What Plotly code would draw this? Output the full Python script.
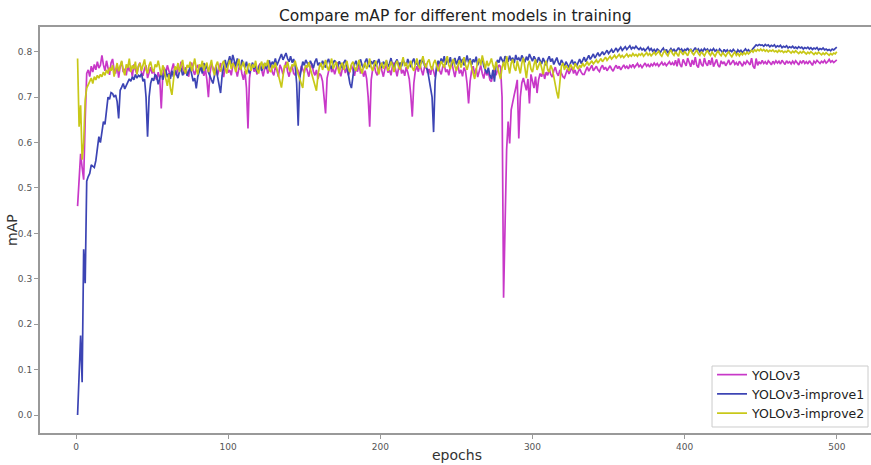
import plotly.graph_objects as go

title_text = "Compare mAP for different models in training"
x_label = "epochs"
y_label = "mAP"
series_names = ["YOLOv3", "YOLOv3-improve1", "YOLOv3-improve2"]
x_ticks = [0, 100, 200, 300, 400, 500]
y_ticks = [0.0, 0.1, 0.2, 0.3, 0.4, 0.5, 0.6, 0.7, 0.8]

yolov3 = [
    0.460, 0.520, 0.575, 0.545, 0.518, 0.650, 0.752, 0.760, 0.745, 0.768,
    0.755, 0.772, 0.760, 0.778, 0.764, 0.770, 0.792, 0.771, 0.758, 0.780,
    0.762, 0.749, 0.775, 0.784, 0.760, 0.752, 0.770, 0.743, 0.767, 0.778,
    0.755, 0.762, 0.748, 0.771, 0.757, 0.766, 0.745, 0.772, 0.760, 0.751,
    0.768, 0.776, 0.754, 0.747, 0.763, 0.770, 0.742, 0.758, 0.766, 0.752,
    0.760, 0.745, 0.738, 0.755, 0.741, 0.675, 0.748, 0.765, 0.752, 0.770,
    0.758, 0.746, 0.762, 0.774, 0.755, 0.748, 0.767, 0.759, 0.778, 0.761,
    0.750, 0.766, 0.757, 0.745, 0.769, 0.776, 0.758, 0.749, 0.764, 0.771,
    0.755, 0.768, 0.760, 0.747, 0.762, 0.738, 0.700, 0.752, 0.773, 0.764,
    0.756, 0.770, 0.748, 0.761, 0.775, 0.757, 0.744, 0.766, 0.772, 0.754,
    0.760, 0.748, 0.769, 0.777, 0.757, 0.745, 0.763, 0.771, 0.752, 0.738,
    0.758, 0.720, 0.631, 0.742, 0.765, 0.773, 0.756, 0.762, 0.750, 0.768,
    0.774, 0.757, 0.746, 0.764, 0.770, 0.752, 0.761, 0.776, 0.755, 0.748,
    0.767, 0.759, 0.745, 0.771, 0.763, 0.750, 0.766, 0.778, 0.757, 0.745,
    0.762, 0.770, 0.752, 0.748, 0.765, 0.758, 0.744, 0.769, 0.761, 0.753,
    0.770, 0.757, 0.745, 0.763, 0.774, 0.756, 0.748, 0.760, 0.740, 0.752,
    0.748, 0.735, 0.700, 0.664, 0.742, 0.760, 0.772, 0.755, 0.763, 0.750,
    0.768, 0.777, 0.758, 0.746, 0.762, 0.770, 0.753, 0.765, 0.748, 0.757,
    0.771, 0.760, 0.747, 0.765, 0.756, 0.774, 0.752, 0.761, 0.745, 0.758,
    0.740, 0.700, 0.635, 0.738, 0.762, 0.770, 0.755, 0.748, 0.766, 0.775,
    0.758, 0.745, 0.763, 0.771, 0.754, 0.760, 0.748, 0.769, 0.776, 0.757,
    0.746, 0.764, 0.771, 0.752, 0.760, 0.747, 0.766, 0.755, 0.740, 0.705,
    0.657, 0.730, 0.758, 0.768, 0.756, 0.772, 0.760, 0.748, 0.765, 0.774,
    0.753, 0.762, 0.749, 0.768, 0.757, 0.745, 0.763, 0.777, 0.758, 0.750,
    0.766, 0.772, 0.755, 0.761, 0.748, 0.767, 0.775, 0.756, 0.744, 0.762,
    0.770, 0.752, 0.760, 0.746, 0.765, 0.757, 0.730, 0.686, 0.735, 0.758,
    0.768, 0.750, 0.763, 0.744, 0.756, 0.770, 0.752, 0.741, 0.760, 0.748,
    0.755, 0.738, 0.734, 0.752, 0.765, 0.748, 0.760, 0.771, 0.767, 0.700,
    0.258, 0.420, 0.584, 0.646, 0.598, 0.672, 0.694, 0.705, 0.720, 0.738,
    0.609, 0.700, 0.731, 0.742, 0.728, 0.715, 0.740, 0.686, 0.750, 0.732,
    0.720, 0.745, 0.709, 0.738, 0.752, 0.745, 0.758, 0.740, 0.755, 0.748,
    0.762, 0.750, 0.744, 0.758, 0.766, 0.753, 0.747, 0.760, 0.751, 0.745,
    0.742, 0.755, 0.762, 0.751, 0.758, 0.766, 0.752, 0.760, 0.748, 0.757,
    0.763, 0.755, 0.750, 0.750, 0.760, 0.767, 0.757, 0.763, 0.770, 0.758,
    0.762, 0.768, 0.760, 0.756, 0.765, 0.770, 0.761, 0.766, 0.758, 0.764,
    0.769, 0.762, 0.757, 0.765, 0.770, 0.763, 0.768, 0.760, 0.766, 0.771,
    0.764, 0.768, 0.762, 0.770, 0.766, 0.772, 0.765, 0.769, 0.774, 0.767,
    0.771, 0.765, 0.770, 0.775, 0.768, 0.772, 0.766, 0.773, 0.769, 0.775,
    0.770, 0.774, 0.768, 0.772, 0.777, 0.770, 0.775, 0.769, 0.773, 0.778,
    0.771, 0.776, 0.770, 0.781, 0.768, 0.785, 0.772, 0.766, 0.783, 0.775,
    0.769, 0.786, 0.774, 0.767, 0.782, 0.771, 0.788, 0.770, 0.765, 0.784,
    0.772, 0.768, 0.786, 0.774, 0.769, 0.781, 0.771, 0.787, 0.767, 0.775,
    0.783, 0.770, 0.766, 0.780, 0.773, 0.778, 0.769, 0.775, 0.782, 0.771,
    0.777, 0.781, 0.772, 0.776, 0.770, 0.779, 0.774, 0.768, 0.777, 0.773,
    0.780, 0.775, 0.771, 0.786, 0.768, 0.763, 0.785, 0.770, 0.778, 0.773,
    0.781, 0.774, 0.778, 0.772, 0.780, 0.776, 0.771, 0.779, 0.774, 0.780,
    0.775, 0.779, 0.773, 0.781, 0.776, 0.772, 0.780, 0.775, 0.778, 0.773,
    0.779, 0.774, 0.780, 0.776, 0.771, 0.779, 0.775, 0.781, 0.774, 0.778,
    0.773, 0.780, 0.776, 0.770, 0.779, 0.775, 0.781, 0.777, 0.774, 0.779,
    0.776, 0.781, 0.775, 0.778, 0.783, 0.777, 0.780, 0.776, 0.779, 0.782,
]

yolov3_improve1 = [
    0.000, 0.090, 0.175, 0.072, 0.365, 0.290, 0.515, 0.525, 0.532, 0.551,
    0.548, 0.545, 0.560, 0.584, 0.613, 0.600, 0.628, 0.646, 0.640, 0.679,
    0.700, 0.695, 0.710, 0.708, 0.700, 0.705, 0.690, 0.653, 0.715, 0.722,
    0.730, 0.718, 0.725, 0.732, 0.740, 0.735, 0.745, 0.738, 0.750, 0.742,
    0.748, 0.745, 0.752, 0.735, 0.740, 0.700, 0.613, 0.700, 0.730, 0.742,
    0.736, 0.750, 0.745, 0.728, 0.742, 0.755, 0.738, 0.747, 0.760, 0.744,
    0.752, 0.740, 0.758, 0.745, 0.763, 0.750, 0.742, 0.757, 0.765, 0.748,
    0.755, 0.762, 0.747, 0.758, 0.766, 0.750, 0.735, 0.742, 0.719, 0.745,
    0.760, 0.768, 0.752, 0.775, 0.762, 0.770, 0.755, 0.748, 0.738, 0.730,
    0.752, 0.766, 0.745, 0.725, 0.709, 0.748, 0.770, 0.782, 0.765, 0.778,
    0.790, 0.772, 0.793, 0.780, 0.768, 0.785, 0.775, 0.760, 0.782, 0.771,
    0.765, 0.778, 0.760, 0.752, 0.768, 0.776, 0.762, 0.770, 0.755, 0.764,
    0.772, 0.758, 0.767, 0.775, 0.762, 0.770, 0.781, 0.766, 0.778, 0.772,
    0.785, 0.770, 0.779, 0.788, 0.795, 0.782, 0.790, 0.797, 0.785, 0.778,
    0.790, 0.776, 0.784, 0.770, 0.730, 0.637, 0.742, 0.765, 0.778, 0.770,
    0.782, 0.775, 0.768, 0.780, 0.772, 0.764, 0.778, 0.785, 0.770, 0.776,
    0.768, 0.780, 0.772, 0.765, 0.778, 0.784, 0.770, 0.762, 0.776, 0.781,
    0.773, 0.766, 0.779, 0.771, 0.764, 0.776, 0.782, 0.769, 0.745, 0.730,
    0.720, 0.752, 0.772, 0.780, 0.768, 0.775, 0.783, 0.770, 0.764, 0.778,
    0.785, 0.771, 0.766, 0.779, 0.773, 0.781, 0.768, 0.775, 0.784, 0.770,
    0.765, 0.778, 0.772, 0.780, 0.767, 0.774, 0.786, 0.771, 0.763, 0.777,
    0.783, 0.770, 0.776, 0.768, 0.781, 0.775, 0.769, 0.784, 0.772, 0.766,
    0.778, 0.785, 0.771, 0.776, 0.768, 0.782, 0.774, 0.786, 0.770, 0.765,
    0.760, 0.740, 0.720, 0.700, 0.623, 0.735, 0.768, 0.780, 0.772, 0.785,
    0.776, 0.790, 0.771, 0.783, 0.775, 0.788, 0.770, 0.779, 0.786, 0.772,
    0.781, 0.790, 0.775, 0.784, 0.770, 0.778, 0.792, 0.776, 0.785, 0.771,
    0.783, 0.777, 0.789, 0.770, 0.781, 0.775, 0.786, 0.768, 0.760, 0.752,
    0.765, 0.748, 0.740, 0.760, 0.734, 0.770, 0.782, 0.776, 0.789, 0.781,
    0.775, 0.790, 0.783, 0.778, 0.791, 0.780, 0.787, 0.775, 0.793, 0.782,
    0.786, 0.779, 0.792, 0.784, 0.777, 0.789, 0.781, 0.795, 0.785, 0.779,
    0.790, 0.783, 0.776, 0.788, 0.780, 0.773, 0.786, 0.779, 0.770, 0.783,
    0.790, 0.778, 0.785, 0.772, 0.780, 0.787, 0.776, 0.770, 0.782, 0.775,
    0.768, 0.778, 0.770, 0.765, 0.775, 0.782, 0.772, 0.778, 0.768, 0.776,
    0.784, 0.774, 0.780, 0.788, 0.778, 0.785, 0.792, 0.783, 0.789, 0.795,
    0.786, 0.792, 0.798, 0.790, 0.795, 0.800, 0.793, 0.797, 0.803, 0.796,
    0.800, 0.805, 0.798, 0.803, 0.808, 0.801, 0.806, 0.810, 0.803, 0.807,
    0.811, 0.805, 0.809, 0.813, 0.806, 0.810, 0.807, 0.812, 0.808, 0.805,
    0.809, 0.804, 0.807, 0.802, 0.806, 0.810, 0.803, 0.807, 0.801, 0.805,
    0.800, 0.806, 0.803, 0.798, 0.804, 0.808, 0.800, 0.805, 0.797, 0.803,
    0.807, 0.801, 0.806, 0.799, 0.804, 0.809, 0.802, 0.806, 0.800, 0.805,
    0.803, 0.808, 0.801, 0.806, 0.799, 0.804, 0.809, 0.802, 0.806, 0.800,
    0.805, 0.801, 0.807, 0.803, 0.806, 0.800, 0.805, 0.802, 0.807, 0.801,
    0.804, 0.799, 0.806, 0.802, 0.798, 0.805, 0.800, 0.804, 0.799, 0.803,
    0.800, 0.805, 0.801, 0.797, 0.804, 0.800, 0.803, 0.798, 0.802, 0.806,
    0.801, 0.804, 0.799, 0.803, 0.808, 0.812, 0.815, 0.813, 0.816, 0.814,
    0.815, 0.812, 0.816, 0.813, 0.815, 0.811, 0.814, 0.812, 0.815, 0.810,
    0.813, 0.811, 0.814, 0.809, 0.812, 0.810, 0.813, 0.808, 0.811, 0.809,
    0.812, 0.808, 0.810, 0.807, 0.811, 0.808, 0.810, 0.806, 0.809, 0.807,
    0.810, 0.806, 0.809, 0.805, 0.808, 0.806, 0.809, 0.804, 0.807, 0.805,
    0.808, 0.804, 0.806, 0.803, 0.805, 0.802, 0.806, 0.804, 0.807, 0.810,
]

yolov3_improve2 = [
    0.785, 0.635, 0.682, 0.562, 0.600, 0.694, 0.720, 0.728, 0.735, 0.742,
    0.730, 0.745, 0.738, 0.748, 0.742, 0.750, 0.745, 0.755, 0.748, 0.760,
    0.752, 0.765, 0.758, 0.770, 0.745, 0.762, 0.775, 0.757, 0.768, 0.780,
    0.760, 0.748, 0.772, 0.765, 0.785, 0.755, 0.770, 0.762, 0.778, 0.750,
    0.768, 0.775, 0.758, 0.772, 0.783, 0.760, 0.752, 0.770, 0.778, 0.762,
    0.755, 0.772, 0.766, 0.780, 0.760, 0.748, 0.770, 0.762, 0.740, 0.725,
    0.750, 0.720, 0.705, 0.745, 0.768, 0.760, 0.775, 0.755, 0.770, 0.782,
    0.760, 0.752, 0.771, 0.765, 0.778, 0.757, 0.769, 0.785, 0.762, 0.750,
    0.772, 0.766, 0.780, 0.758, 0.770, 0.776, 0.755, 0.768, 0.782, 0.760,
    0.748, 0.770, 0.778, 0.762, 0.756, 0.773, 0.780, 0.765, 0.752, 0.770,
    0.782, 0.762, 0.775, 0.768, 0.755, 0.772, 0.784, 0.760, 0.770, 0.778,
    0.763, 0.750, 0.768, 0.775, 0.758, 0.772, 0.765, 0.780, 0.760, 0.752,
    0.770, 0.778, 0.762, 0.775, 0.768, 0.782, 0.760, 0.755, 0.771, 0.764,
    0.776, 0.760, 0.745, 0.735, 0.721, 0.752, 0.770, 0.765, 0.778, 0.762,
    0.755, 0.772, 0.768, 0.780, 0.762, 0.750, 0.740, 0.732, 0.720, 0.758,
    0.770, 0.765, 0.777, 0.762, 0.750, 0.740, 0.730, 0.714, 0.748, 0.768,
    0.775, 0.760, 0.770, 0.782, 0.766, 0.758, 0.773, 0.785, 0.762, 0.770,
    0.778, 0.765, 0.752, 0.770, 0.776, 0.760, 0.768, 0.780, 0.763, 0.755,
    0.772, 0.778, 0.765, 0.758, 0.770, 0.782, 0.764, 0.752, 0.768, 0.776,
    0.762, 0.770, 0.785, 0.765, 0.758, 0.773, 0.780, 0.762, 0.750, 0.768,
    0.776, 0.763, 0.770, 0.782, 0.758, 0.765, 0.778, 0.770, 0.755, 0.772,
    0.780, 0.766, 0.760, 0.775, 0.788, 0.768, 0.776, 0.762, 0.771, 0.780,
    0.765, 0.758, 0.772, 0.785, 0.770, 0.763, 0.778, 0.790, 0.772, 0.765,
    0.777, 0.783, 0.768, 0.760, 0.775, 0.782, 0.770, 0.757, 0.768, 0.779,
    0.772, 0.765, 0.780, 0.790, 0.770, 0.762, 0.776, 0.784, 0.768, 0.758,
    0.770, 0.781, 0.765, 0.775, 0.788, 0.770, 0.760, 0.773, 0.782, 0.765,
    0.750, 0.740, 0.760, 0.778, 0.785, 0.770, 0.792, 0.775, 0.762, 0.780,
    0.768, 0.775, 0.785, 0.770, 0.760, 0.778, 0.765, 0.752, 0.740, 0.765,
    0.778, 0.760, 0.790, 0.770, 0.752, 0.775, 0.783, 0.765, 0.758, 0.780,
    0.768, 0.752, 0.775, 0.787, 0.765, 0.742, 0.770, 0.780, 0.762, 0.755,
    0.772, 0.783, 0.760, 0.768, 0.778, 0.765, 0.750, 0.772, 0.780, 0.760,
    0.755, 0.770, 0.762, 0.745, 0.725, 0.710, 0.697, 0.740, 0.768, 0.775,
    0.760, 0.770, 0.765, 0.758, 0.772, 0.766, 0.760, 0.774, 0.768, 0.762,
    0.770, 0.765, 0.775, 0.768, 0.772, 0.778, 0.770, 0.775, 0.780, 0.773,
    0.777, 0.782, 0.775, 0.780, 0.785, 0.778, 0.783, 0.788, 0.781, 0.786,
    0.790, 0.784, 0.788, 0.792, 0.786, 0.790, 0.794, 0.788, 0.792, 0.787,
    0.791, 0.795, 0.789, 0.793, 0.790, 0.796, 0.791, 0.794, 0.790, 0.795,
    0.792, 0.797, 0.790, 0.794, 0.798, 0.792, 0.796, 0.791, 0.795, 0.799,
    0.793, 0.797, 0.801, 0.794, 0.790, 0.798, 0.802, 0.795, 0.791, 0.799,
    0.804, 0.796, 0.792, 0.800, 0.795, 0.790, 0.803, 0.797, 0.793, 0.801,
    0.796, 0.791, 0.800, 0.805, 0.797, 0.793, 0.799, 0.804, 0.796, 0.792,
    0.800, 0.795, 0.791, 0.798, 0.803, 0.796, 0.792, 0.799, 0.794, 0.790,
    0.797, 0.802, 0.795, 0.791, 0.798, 0.794, 0.790, 0.796, 0.800, 0.793,
    0.789, 0.795, 0.799, 0.792, 0.796, 0.791, 0.797, 0.793, 0.798, 0.794,
    0.799, 0.795, 0.800, 0.803, 0.799, 0.804, 0.801, 0.805, 0.802, 0.806,
    0.802, 0.805, 0.801, 0.804, 0.800, 0.803, 0.801, 0.804, 0.800, 0.802,
    0.799, 0.803, 0.800, 0.802, 0.798, 0.801, 0.799, 0.803, 0.800, 0.797,
    0.801, 0.798, 0.802, 0.799, 0.796, 0.800, 0.797, 0.801, 0.798, 0.795,
    0.799, 0.796, 0.800, 0.797, 0.794, 0.798, 0.795, 0.799, 0.796, 0.793,
    0.797, 0.794, 0.798, 0.795, 0.792, 0.796, 0.793, 0.797, 0.795, 0.800,
]

series_values = [yolov3, yolov3_improve1, yolov3_improve2]
colors = ["#c838c8", "#3c44b4", "#c8c818"]

fig = go.Figure()
for name, vals, col in zip(series_names, series_values, colors):
    epochs = list(range(1, len(vals) + 1))
    fig.add_trace(go.Scatter(
        x=epochs, y=vals, mode="lines", name=name,
        line=dict(color=col, width=1.7),
    ))

font_family = "DejaVu Sans, Verdana, sans-serif"
fig.update_layout(
    width=871, height=465,
    margin=dict(l=40, r=0, t=27, b=32, autoexpand=False),
    paper_bgcolor="white", plot_bgcolor="white",
    font=dict(family=font_family, color="#333333"),
    showlegend=True,
    legend=dict(x=0.8087, y=0.1798, xanchor="left", yanchor="top",
                bgcolor="rgba(0,0,0,0)", borderwidth=0,
                font=dict(size=12.5, color="#222222"), tracegroupgap=0),
    hovermode=False,
    shapes=[
        dict(type="rect", xref="paper", yref="paper",
             x0=0.8087, x1=0.9964, y0=0.0148, y1=0.165,
             line=dict(color="#cccccc", width=1), fillcolor="white", layer="below"),
    ],
    annotations=[
        dict(text=title_text, xref="paper", yref="paper", x=0.5, y=1.0271,
             xanchor="center", yanchor="middle", showarrow=False, borderpad=0,
             font=dict(size=15.5, color="#222222")),
        dict(text=x_label, xref="paper", yref="paper", x=0.5015, y=-0.0542,
             xanchor="center", yanchor="middle", showarrow=False,
             font=dict(size=14, color="#333333")),
        dict(text=y_label, xref="paper", yref="paper", x=-0.0337, y=0.5,
             xanchor="center", yanchor="middle", showarrow=False, textangle=-90,
             borderpad=0, font=dict(size=14, color="#333333")),
    ],
)
fig.update_xaxes(
    range=[-23.7, 522.5], tickvals=x_ticks, ticktext=[str(t) for t in x_ticks],
    showgrid=False, zeroline=False, automargin=False,
    showline=True, mirror=True, linecolor="#999999", linewidth=2,
    ticks="outside", ticklen=4, tickcolor="#999999",
    tickfont=dict(size=9, color="#555555"),
)
fig.update_yaxes(
    range=[-0.0396, 0.8544], tickvals=y_ticks, tickformat=".1f",
    showgrid=False, zeroline=False, automargin=False,
    showline=True, mirror=True, linecolor="#999999", linewidth=2,
    ticks="outside", ticklen=4, tickcolor="#999999",
    tickfont=dict(size=9, color="#555555"),
)

# remove the browser's default 8px body margin so the figure fills the window exactly
fig.write_html("out.html", config={"displayModeBar": False},
               post_script="document.body.style.margin='0';")
